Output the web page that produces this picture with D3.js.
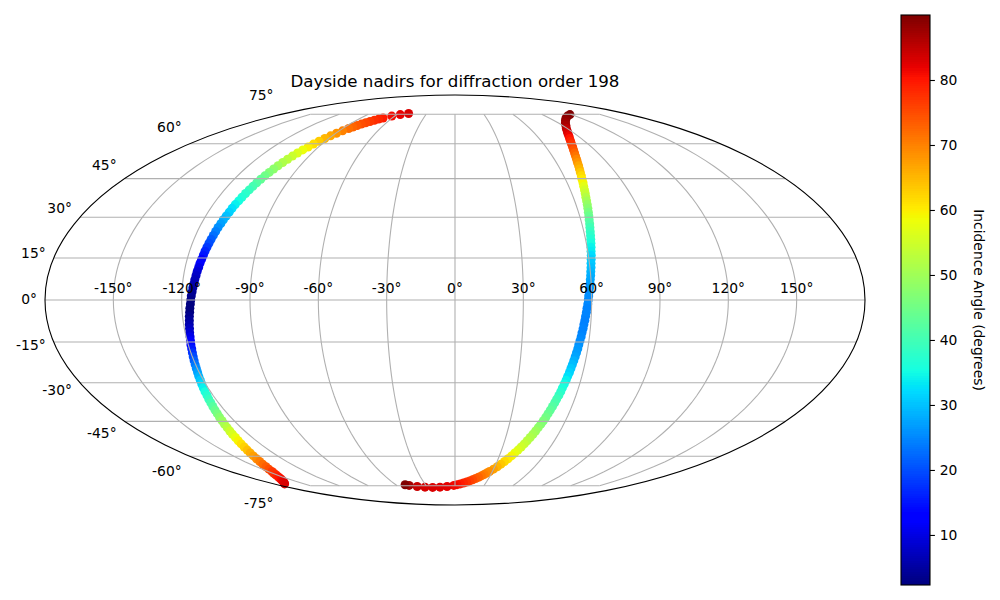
<!DOCTYPE html>
<html><head><meta charset="utf-8">
<script src="https://cdn.jsdelivr.net/npm/d3@7"></script>
<style>html,body{margin:0;padding:0;background:#fff}svg{display:block}text{font-family:"DejaVu Sans";fill:#000}</style>
</head><body><svg id="c" width="1000" height="600"></svg>
<script>
const aLon=[-49.1,-56.3,-62.8,-68.6,-71.2,-73.6,-75.9,-78,-80,-81.8,-83.6,-85.2,-87.4,-89.4,-91.2,-92.8,-94.3,-95.7,-96.9,-98.1,-99.2,-100.2,-101.1,-102,-102.8,-103.5,-104.2,-104.9,-105.5,-106.1,-106.6,-107.1,-107.6,-108.1,-108.5,-109,-109.4,-109.7,-110.1,-110.5,-110.8,-111.2,-111.5,-111.8,-112.1,-112.4,-112.7,-113,-113.2,-113.5,-113.8,-114,-114.3,-114.5,-114.8,-115,-115.3,-115.5,-115.8,-116,-116.2,-116.5,-116.7,-117,-117.2,-117.5,-117.7,-118,-118.2,-118.5,-118.8,-119,-119.3,-119.6,-119.9,-120.2,-120.5,-120.8,-121.2,-121.5,-121.9,-122.3,-122.7,-123,-123.5,-123.9,-124.4,-124.9,-125.4,-126,-126.5,-127.2,-127.8,-128.5,-129.3,-130,-130.9,-131.8,-132.8,-133.9,-135.1,-136.3,-137.7,-139.2,-140.9,-142.6,-144.7,-146.8,-148.5,-150.2,-152,-154,-156.1,-158.4,-160.8,-163.4,-166.2,-169.2];
const aLat=[75.46,74.79,73.93,72.87,72.26,71.63,70.98,70.3,69.58,68.85,68.1,67.34,66.16,64.95,63.7,62.43,61.13,59.82,58.5,57.18,55.82,54.46,53.09,51.72,50.33,48.94,47.54,46.14,44.73,43.32,41.91,40.49,39.06,37.63,36.2,34.77,33.34,31.9,30.46,29.02,27.58,26.13,24.69,23.24,21.8,20.35,18.9,17.45,16,14.54,13.09,11.64,10.19,8.73,7.28,5.82,4.37,2.91,1.46,0,-1.46,-2.91,-4.37,-5.82,-7.28,-8.73,-10.19,-11.64,-13.09,-14.54,-16,-17.45,-18.9,-20.35,-21.8,-23.24,-24.69,-26.13,-27.58,-29.02,-30.46,-31.9,-33.34,-34.77,-36.2,-37.63,-39.06,-40.49,-41.91,-43.32,-44.73,-46.14,-47.54,-48.94,-50.33,-51.72,-53.09,-54.46,-55.82,-57.18,-58.5,-59.82,-61.13,-62.43,-63.7,-64.95,-66.16,-67.34,-68.1,-68.85,-69.58,-70.3,-70.98,-71.63,-72.26,-72.87,-73.42,-73.93];
const aInc=[83,82,80.8,79.4,78.6,77.7,76.7,75.6,74.6,73.6,72.6,71.6,70.1,68.4,66.7,65,63.2,61.5,59.7,58,56.3,54.6,52.9,51.3,49.7,48.2,46.7,45.1,43.5,42,40.6,39.2,37.8,36.6,35.4,34.1,32.7,31.2,29.8,28.4,27.1,25.7,24.4,22.9,21.3,19.8,18.2,16.6,15,13.5,12,10.5,9.1,7.9,7,6.2,5.4,4.6,3.7,3,2.5,2.3,2.6,3.4,4.6,6,7.4,8.8,10.3,11.9,13.7,15.6,17.5,19.5,21.4,23.4,25.3,27,28.8,30.5,32.2,34,35.6,37.2,38.9,40.6,42.2,44,45.7,47.4,49.2,50.9,52.6,54.4,56,57.7,59.3,60.9,62.5,64.1,65.7,67.2,68.8,70.3,71.9,73.4,74.9,76.3,77.2,78,78.8,79.6,80.3,81,81.6,82.2,82.6,83];
const bLon=[118.2,111.7,105.9,100.9,96.5,92.7,89.3,87.2,85.1,83.4,81.7,80.2,78.8,77.6,76.4,75.3,74.3,73.4,72.5,71.8,71,70.3,69.7,69,68.5,67.9,67.4,66.9,66.4,66,65.6,65.2,64.8,64.4,64,63.7,63.3,63,62.7,62.4,62.1,61.8,61.5,61.3,61,60.7,60.5,60.2,60,59.7,59.5,59.2,59,58.7,58.5,58.3,58,57.8,57.5,57.3,57,56.8,56.5,56.3,56,55.7,55.5,55.2,54.9,54.6,54.3,54,53.7,53.3,53,52.6,52.2,51.9,51.5,51,50.6,50.1,49.6,49.1,48.6,48,47.4,46.7,46,45.3,44.5,43.6,42.7,41.7,40.6,39.4,38.2,36.8,35.3,33.7,31.9,29.9,27.7,26,24.3,22.5,20.5,18.4,16.1,13.7,11.1,8.3,5.3,2.1,-1.2,-8.4,-16.2,-24.2,-32.3,-40,-47.2,-50.5];
const bLat=[74.79,73.93,72.87,71.63,70.3,68.85,67.34,66.16,64.95,63.7,62.43,61.13,59.82,58.5,57.18,55.82,54.46,53.09,51.72,50.33,48.94,47.54,46.14,44.73,43.32,41.91,40.49,39.06,37.63,36.2,34.77,33.34,31.9,30.46,29.02,27.58,26.13,24.69,23.24,21.8,20.35,18.9,17.45,16,14.54,13.09,11.64,10.19,8.73,7.28,5.82,4.37,2.91,1.46,0,-1.46,-2.91,-4.37,-5.82,-7.28,-8.73,-10.19,-11.64,-13.09,-14.54,-16,-17.45,-18.9,-20.35,-21.8,-23.24,-24.69,-26.13,-27.58,-29.02,-30.46,-31.9,-33.34,-34.77,-36.2,-37.63,-39.06,-40.49,-41.91,-43.32,-44.73,-46.14,-47.54,-48.94,-50.33,-51.72,-53.09,-54.46,-55.82,-57.18,-58.5,-59.82,-61.13,-62.43,-63.7,-64.95,-66.16,-67.34,-68.1,-68.85,-69.58,-70.3,-70.98,-71.63,-72.26,-72.87,-73.42,-73.93,-74.38,-74.79,-75.46,-75.85,-75.97,-75.85,-75.46,-74.79,-74.4];
const bInc=[90,89.5,89,88.3,87.5,86.6,85.4,84.3,83,81.6,80.2,78.8,77.3,75.8,74.3,72.8,71.2,69.7,68.1,66.6,65,63.4,61.8,60.2,58.9,57.3,55.6,54,52.3,50.5,48.7,47.2,45.7,44.2,42.7,41.3,39.9,38.7,37.6,36.6,35.6,34.5,33.5,32.4,31.4,30.5,29.8,29.1,28.4,27.8,27.1,26.5,26,25.6,25.3,25.1,24.9,24.7,24.6,24.5,24.5,24.6,24.8,25,25.3,25.8,26.3,26.9,27.5,28.4,29.4,30.5,31.5,32.6,33.9,35.1,36.2,37.3,38.5,39.7,40.9,41.9,42.9,43.9,44.9,46,47,48.1,49.3,50.4,51.5,52.6,53.8,55,56.2,57.5,59,60.4,61.9,63.5,65.2,66.9,68.5,69.4,70.3,71.4,72.6,73.8,75,76.2,77.4,78.6,79.7,80.6,81.3,82.3,82.8,83,83.3,84.5,87,90];
const lonTicks=[-150,-120,-90,-60,-30,0,30,60,90,120,150];
const latTicks=[-75,-60,-45,-30,-15,0,15,30,45,60,75];
const barTicks=[10,20,30,40,50,60,70,80];
const titleText="Dayside nadirs for diffraction order 198";
const barLabel="Incidence Angle (degrees)";
const incDomain=[2.3,90];

function mollRaw(l,p){
  let t=p;
  for(let i=0;i<40;i++){const d=(2*t+Math.sin(2*t)-Math.PI*Math.sin(p))/(2+2*Math.cos(2*t));t-=d;if(Math.abs(d)<1e-10)break;}
  return [2*Math.SQRT2/Math.PI*l*Math.cos(t),Math.SQRT2*Math.sin(t)];
}
const cx=455,cy=300,rx=410,ry=205;
const proj=d3.geoProjection(mollRaw).scale(ry/Math.SQRT2).translate([cx,cy]).precision(0.2);
const svg=d3.select("#c");

const jr=d3.scaleLinear().domain([0,.35,.66,.89,1]).range([0,0,1,1,.5]);
const jg=d3.scaleLinear().domain([0,.125,.375,.64,.91,1]).range([0,0,1,1,0,0]);
const jb=d3.scaleLinear().domain([0,.11,.34,.65,1]).range([.5,1,1,0,0]);
const jet=t=>{t=Math.floor(Math.min(.9999,Math.max(0,t))*256)/255;return d3.rgb(jr(t)*255,jg(t)*255,jb(t)*255).formatHex();};
const norm=d3.scaleLinear().domain(incDomain).range([0,1]);

const pts=[...aLon.map((d,i)=>[d,aLat[i],aInc[i]]),...bLon.map((d,i)=>[d,bLat[i],bInc[i]])];
svg.append("g").selectAll("circle").data(pts).join("circle")
 .attr("cx",d=>proj(d)[0]).attr("cy",d=>proj(d)[1]).attr("r",4.5).attr("fill",d=>jet(norm(d[2])));

const grid=svg.append("g").attr("fill","none").attr("stroke","#b0b0b0").attr("stroke-width",1.1);
latTicks.forEach(lat=>{
  const end=Math.abs(lat)===75?150:179.999;
  grid.append("path").attr("d",d3.line()([-end,...d3.range(-178,178.01,2).filter(l=>Math.abs(l)<end),end].map(l=>proj([l,lat]))));
});
lonTicks.forEach(lon=>{
  grid.append("path").attr("d",d3.line()(d3.range(-75,75.01,2.5).map(p=>proj([lon,p]))));
});
svg.append("ellipse").attr("cx",cx).attr("cy",cy).attr("rx",rx).attr("ry",ry).attr("fill","none").attr("stroke","#000").attr("stroke-width",1.1);

const fs="13.89px";
lonTicks.forEach(lon=>{
  const p=proj([lon,0]);
  svg.append("text").attr("x",p[0]).attr("y",p[1]-7).attr("text-anchor","middle").style("font-size",fs).text(lon+"°");
});
latTicks.forEach(lat=>{
  const p=proj([-179.999,lat]);
  svg.append("text").attr("x",p[0]-8).attr("y",cy+(p[1]-cy)*1.1+4).attr("text-anchor","end").style("font-size",fs).text(lat+"°");
});
svg.append("text").attr("x",455).attr("y",87).attr("text-anchor","middle").style("font-size","16.67px").text(titleText);

const bx=901,bw=29,bt=15,bb=585;
const barY=d3.scaleLinear().domain(incDomain).range([bb,bt]);
const bar=svg.append("g").attr("shape-rendering","crispEdges");
const h=(bb-bt)/256;
bar.selectAll("rect").data(d3.range(256)).join("rect")
 .attr("x",bx).attr("width",bw).attr("y",i=>Math.round(bb-(i+1)*h)).attr("height",i=>Math.round(bb-i*h)-Math.round(bb-(i+1)*h))
 .attr("fill",i=>jet((i+.5)/256));
svg.append("rect").attr("x",bx).attr("y",bt).attr("width",bw).attr("height",bb-bt).attr("fill","none").attr("stroke","#000").attr("stroke-width",1.1);
const ax=d3.axisRight(barY).tickValues(barTicks).tickSize(4.9).tickPadding(4.9).tickFormat(d3.format("d"));
const ag=svg.append("g").attr("transform",`translate(${bx+bw},0)`).call(ax);
ag.select(".domain").remove();
ag.selectAll("line").attr("stroke","#000").attr("stroke-width",1.1);
ag.selectAll("text").style("font-size",fs).attr("font-family","DejaVu Sans");
svg.append("text").attr("transform","translate(974,300) rotate(90)").attr("text-anchor","middle").style("font-size",fs).text(barLabel);
</script></body></html>
